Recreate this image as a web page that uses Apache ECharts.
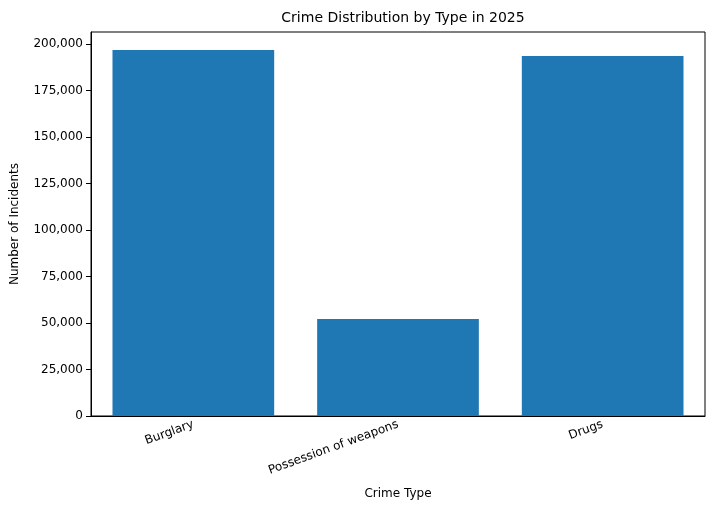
<!DOCTYPE html>
<html>
<head>
<meta charset="utf-8">
<script src="https://cdn.jsdelivr.net/npm/echarts@6/dist/echarts.min.js"></script>
<style>html,body{margin:0;padding:0;background:#fff}#main{width:721px;height:523px}</style>
</head>
<body>
<div id="main"></div>
<script>
var categories = ['Burglary', 'Possession of weapons', 'Drugs'];
var incidents = [196800, 52100, 193500];

var chart = echarts.init(document.getElementById('main'));
var font = 'DejaVu Sans';
chart.setOption({
  animation: false,
  textStyle: { fontFamily: font },
  title: {
    text: 'Crime Distribution by Type in 2025',
    left: 398, top: 6, textAlign: 'center',
    textStyle: { fontFamily: font, fontSize: 14, fontWeight: 'normal', color: '#000' }
  },
  grid: { left: 91, right: 16, top: 32, bottom: 107 },
  xAxis: {
    type: 'category',
    data: categories,
    name: 'Crime Type',
    nameLocation: 'middle',
    nameGap: 72,
    nameTextStyle: { fontFamily: font, fontSize: 12, color: '#000' },
    axisLine: { lineStyle: { color: '#000' } },
    axisTick: { alignWithLabel: true, lineStyle: { color: '#000' } },
    axisLabel: { rotate: 20, fontFamily: font, fontSize: 12, color: '#000', margin: 8 },
    boundaryGap: true
  },
  yAxis: {
    type: 'value',
    min: 0, max: 206450, interval: 25000,
    name: 'Number of Incidents',
    nameLocation: 'middle',
    nameGap: 70,
    nameTextStyle: { fontFamily: font, fontSize: 12, color: '#000' },
    axisLine: { show: true, lineStyle: { color: '#000' } },
    axisTick: { show: true, lineStyle: { color: '#000' } },
    axisLabel: { fontFamily: font, fontSize: 12, color: '#000', showMaxLabel: false },
    splitLine: { show: false }
  },
  series: [{
    type: 'bar',
    data: incidents,
    barWidth: '79%',
    itemStyle: { color: '#1f77b4' }
  }]
});
chart.setOption({ graphic: [{ type: 'rect', shape: { x: 91, y: 32, width: 614, height: 384 }, style: { fill: 'none', stroke: '#000', lineWidth: 1 }, silent: true }] });
</script>
</body>
</html>
